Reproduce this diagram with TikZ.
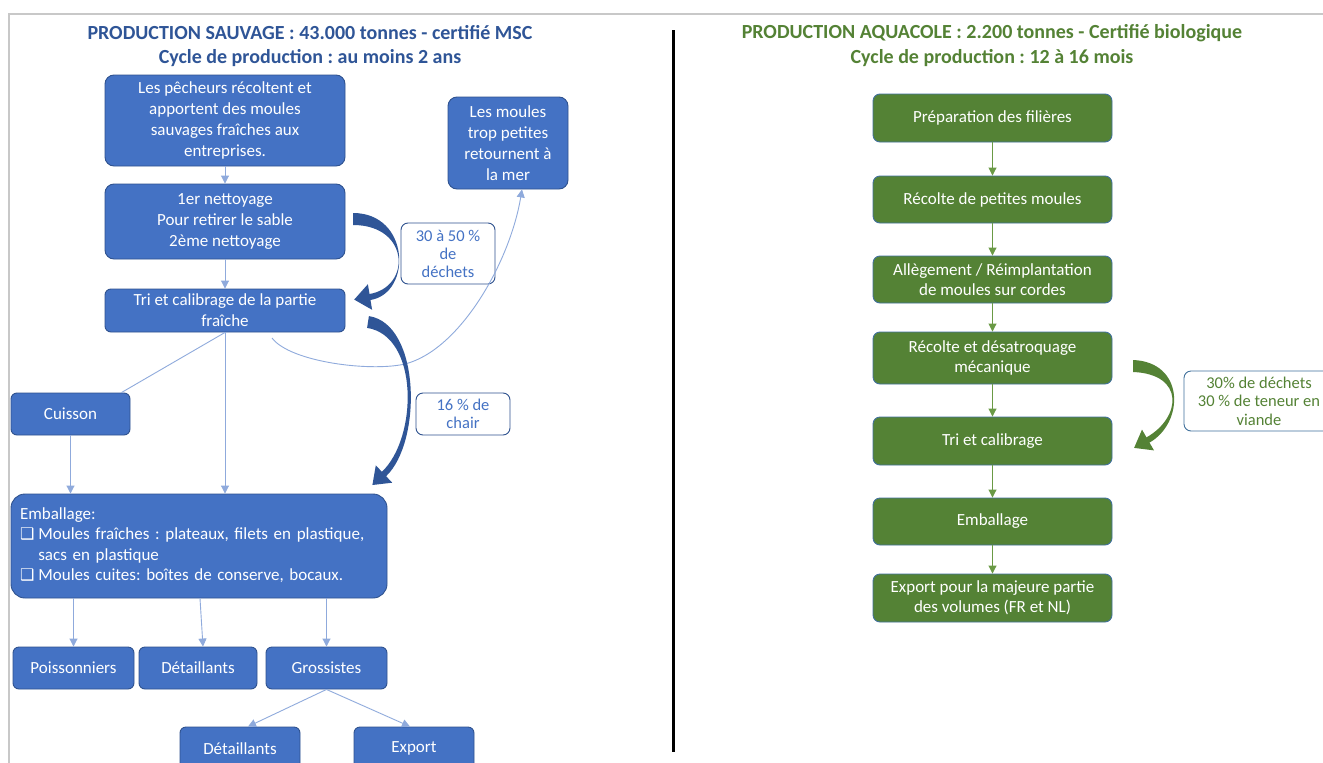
\documentclass[tikz,border=0pt]{standalone}
\usepackage{fontspec}
\setmainfont{Carlito}
\newfontfamily\djv{DejaVu Sans}
\usetikzlibrary{arrows.meta,calc}
\frenchspacing
\definecolor{bfill}{HTML}{4472C4}
\definecolor{bborder}{HTML}{2F528F}
\definecolor{btitle}{HTML}{2F5597}
\definecolor{bthin}{HTML}{8FAADC}
\definecolor{bthick}{HTML}{2F5597}
\definecolor{gfill}{HTML}{548235}
\definecolor{gborder}{HTML}{41719C}
\definecolor{gtitle}{HTML}{548235}
\definecolor{gthin}{HTML}{6A9A45}
\definecolor{framegray}{HTML}{C8C8C8}
\tikzset{
  bbox/.style={draw=bborder, fill=bfill, rounded corners=9pt, text=white, align=center,
    line width=0.9pt, inner sep=2pt, font=\fontsize{17}{21}\selectfont},
  gbox/.style={draw=gborder, fill=gfill, rounded corners=7pt, text=white, align=center,
    line width=0.9pt, inner sep=2pt, minimum width=239pt, font=\fontsize{17}{19.5}\selectfont},
  blabel/.style={draw=bborder, fill=white, rounded corners=7pt, text=bfill, align=center,
    line width=0.9pt, inner sep=2pt, font=\fontsize{16.5}{18}\selectfont},
  glabel/.style={draw=gborder, fill=white, rounded corners=7pt, text=gtitle, align=center,
    line width=0.9pt, inner sep=2pt, font=\fontsize{16.5}{18.5}\selectfont},
  ttlB/.style={text=btitle, font=\fontsize{20}{24}\selectfont\bfseries, inner sep=0pt},
  ttlG/.style={text=gtitle, font=\fontsize{20}{24}\selectfont\bfseries, inner sep=0pt},
  barrow/.style={draw=bthin, line width=0.9pt, -{Triangle[length=8pt,width=8pt]}},
  bline/.style={draw=bthin, line width=0.9pt},
  garrow/.style={draw=gthin, line width=0.9pt, -{Triangle[length=8pt,width=8pt]}},
}
\begin{document}
\begin{tikzpicture}[x=1pt,y=-1pt]
\useasboundingbox (0,0) rectangle (1323,763);
\fill[white] (0,0) rectangle (1323,763);
% frame
\draw[framegray, line width=1.6pt] (9,763) -- (9,14) -- (1323,14);
% divider
\draw[black, line width=3pt] (673,30) -- (673,752);

% titles
\node[ttlB] (t1) at (310,33) {PRODUCTION SAUVAGE : 43.000 tonnes - certifié MSC};
\node[ttlB] (t2) at (310,58) {Cycle de production : au moins 2 ans};
\node[ttlG] (t3) at (992,33) {PRODUCTION AQUACOLE : 2.200 tonnes - Certifié biologique};
\node[ttlG] (t4) at (992,58) {Cycle de production : 12 à 16 mois};

% left boxes
\node[bbox, minimum width=240pt, minimum height=91pt] (B1) at (225,120.5)
  {Les pêcheurs récoltent et\\apportent des moules\\sauvages fraîches aux\\entreprises.};
\node[bbox, minimum width=240pt, minimum height=75pt] (B2) at (225,221.5)
  {1er nettoyage\\Pour retirer le sable\\2ème nettoyage};
\node[bbox, minimum width=240pt, minimum height=43pt, rounded corners=6pt] (B3) at (225,310.5)
  {Tri et calibrage de la partie\\fraîche};
\node[bbox, minimum width=120pt, minimum height=92pt] (Mer) at (508,143)
  {Les moules\\trop petites\\retournent à\\la mer};
\node[blabel, minimum width=94pt, minimum height=61pt] (L1) at (448,253.5)
  {30 à 50 \%\\de\\déchets};
\node[bbox, minimum width=119pt, minimum height=42pt, rounded corners=6pt] (Cui) at (70.5,414) {Cuisson};
\node[blabel, minimum width=94pt, minimum height=42pt] (L2) at (463,414) {16 \% de\\chair};
\node[bbox, minimum width=376pt, minimum height=104pt, text width=358pt, align=left,
  inner xsep=9pt, rounded corners=14pt, font=\fontsize{17}{20.5}\selectfont] (Emb) at (199,546)
  {\begin{tabular}{@{}l@{\hspace{4pt}}l@{}}
   \multicolumn{2}{@{}l@{}}{Emballage:}\\
   {\djv\fontsize{16}{20}\selectfont ❑} & Moules fraîches : plateaux, filets en plastique,\\
   & sacs en plastique\\
   {\djv\fontsize{16}{20}\selectfont ❑} & Moules cuites: boîtes de conserve, bocaux.
   \end{tabular}};
\node[bbox, minimum width=121pt, minimum height=42pt, rounded corners=6pt] (Poi) at (73.5,668) {Poissonniers};
\node[bbox, minimum width=118pt, minimum height=42pt, rounded corners=6pt] (Det) at (198,668) {Détaillants};
\node[bbox, minimum width=121pt, minimum height=42pt, rounded corners=6pt] (Gro) at (326.5,668) {Grossistes};
\node[bbox, minimum width=120pt, minimum height=43pt, rounded corners=6pt] (Det2) at (240,748.5) {Détaillants};
\node[bbox, minimum width=120pt, minimum height=43pt, rounded corners=6pt] (Exp) at (414,748.5) {Export};

% left thin connectors
\draw[barrow] (B1.south) -- (B2.north);
\draw[barrow] (B2.south) -- (B3.north);
\draw[barrow] (B3.south) -- (B3.south |- Emb.north);
\draw[bline] (B3.south) -- ($(Cui.north east)+(-9,0)$);
\draw[barrow] (Cui.south) -- (Cui.south |- Emb.north);
\draw[barrow] (Poi.north |- Emb.south) -- (Poi.north);
\draw[barrow] ($(Det.north |- Emb.south)+(2,0)$) -- ($(Det.north)+(5,0)$);
\draw[barrow] (Gro.north |- Emb.south) -- (Gro.north);
\draw[barrow] (Gro.south) -- ($(Det2.north)+(8,0)$);
\draw[barrow] (Gro.south) -- ($(Exp.north)+(-4,0)$);
\coordinate (cs) at (272,338);
\coordinate (cm) at (405,364);
\draw[barrow] (cs) .. controls (290,362) and (370,372) .. (cm)
  .. controls (460,350) and (510,262) .. ($(Mer.south)+(14,0)$);

% thick curved arrows (blue)
\fill[bthick] (353,213) .. controls (410,213) and (412.5,293) .. (370.5,300)
  -- (372.1,309.8) -- (354.2,299.6) -- (367.9,284.2) -- (369.5,294)
  .. controls (411.5,287) and (410,225) .. (353,225) -- cycle;
\fill[bthick] (368.9,316.1) .. controls (420.9,324.1) and (422.1,442.2) .. (386.1,476.2)
  -- (392.2,482.7) -- (372.4,485) -- (375.8,465.3) -- (381.9,471.8)
  .. controls (417.9,437.8) and (419.1,335.9) .. (367.1,327.9) -- cycle;

% right boxes
\node[gbox, minimum height=48pt] (G1) at (992.5,118) {Préparation des filières};
\node[gbox, minimum height=47pt] (G2) at (992.5,199.5) {Récolte de petites moules};
\node[gbox, minimum height=47pt] (G3) at (992.5,279.5) {Allègement / Réimplantation\\de moules sur cordes};
\node[gbox, minimum height=52pt] (G4) at (992.5,358) {Récolte et désatroquage\\mécanique};
\node[gbox, minimum height=48pt] (G5) at (992.5,441) {Tri et calibrage};
\node[gbox, minimum height=47pt] (G6) at (992.5,521.5) {Emballage};
\node[gbox, minimum height=48pt] (G7) at (992.5,598) {Export pour la majeure partie\\des volumes (FR et NL)};
\node[glabel, minimum width=150pt, minimum height=60pt] (LG) at (1259,401)
  {30\% de déchets\\30 \% de teneur en\\viande};

\draw[garrow] (G1.south) -- (G2.north);
\draw[garrow] (G2.south) -- (G3.north);
\draw[garrow] (G3.south) -- (G4.north);
\draw[garrow] (G4.south) -- (G5.north);
\draw[garrow] (G5.south) -- (G6.north);
\draw[garrow] (G6.south) -- (G7.north);

% thick curved arrow (green)
\fill[gfill] (1133,360) .. controls (1185,362) and (1184.5,422.6) .. (1149.5,442.6)
  -- (1154,450.4) -- (1134.1,447.9) -- (1142,429.6) -- (1146.5,437.4)
  .. controls (1181.5,417.4) and (1185,374) .. (1133,372) -- cycle;
\end{tikzpicture}
\end{document}
